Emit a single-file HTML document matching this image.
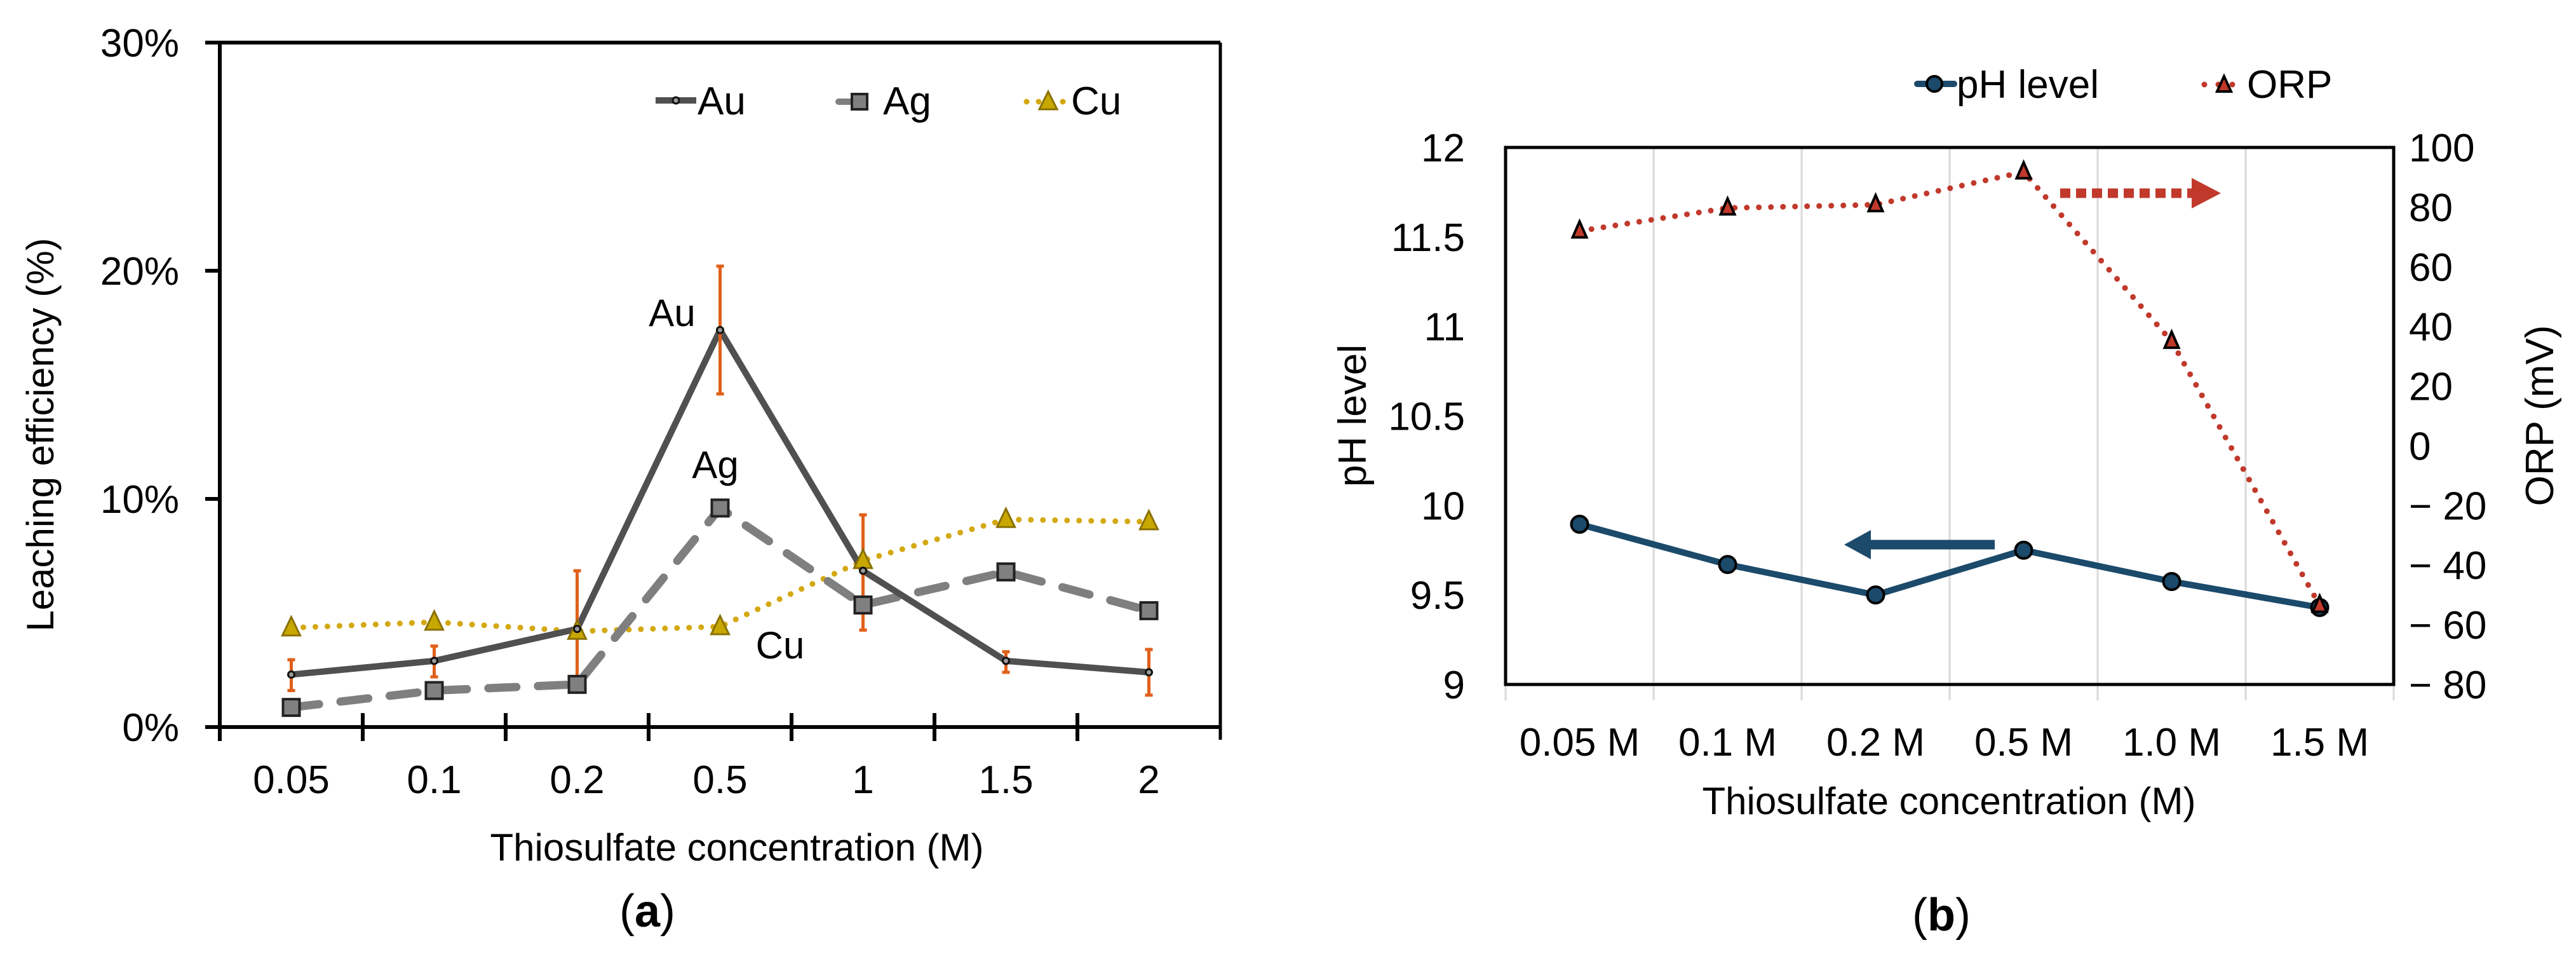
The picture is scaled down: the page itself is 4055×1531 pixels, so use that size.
<!DOCTYPE html>
<html><head><meta charset="utf-8"><style>
html,body{margin:0;padding:0;background:#fff;}
svg{display:block;font-family:"Liberation Sans",sans-serif;}
</style></head><body>
<svg id="fig" width="4055" height="1531" viewBox="0 0 4055 1531">
<g id="panelA"></g>
<g id="panelB"></g>
</svg>
<script>
// ---------- Panel (a) data ----------
const catsA = ["0.05","0.1","0.2","0.5","1","1.5","2"];
const auVals = [2.3,2.9,4.3,17.4,6.85,2.9,2.4];
const agVals = [0.86,1.6,1.87,9.6,5.35,6.8,5.1];
const cuVals = [4.35,4.6,4.2,4.4,7.3,9.1,9.0];
const auErrHi = [2.95,3.55,6.85,20.2,9.3,3.3,3.4];
const auErrLo = [1.6,2.2,2.2,14.6,4.25,2.4,1.4];
const yTicksA = [0,10,20,30];
const yTickLabelsA = ["0%","10%","20%","30%"];
// ---------- Panel (b) data ----------
const catsB = ["0.05 M","0.1 M","0.2 M","0.5 M","1.0 M","1.5 M"];
const phVals = [9.895,9.67,9.5,9.75,9.575,9.43];
const orpVals = [72,79.7,80.8,91.8,35,-53.5];
const phTicks = [9,9.5,10,10.5,11,11.5,12];
const phTickLabels = ["9","9.5","10","10.5","11","11.5","12"];
const orpTicks = [-80,-60,-40,-20,0,20,40,60,80,100];
const orpTickLabels = ["\u2212 80","\u2212 60","\u2212 40","\u2212 20","0","20","40","60","80","100"];

const NS="http://www.w3.org/2000/svg";
function mk(parent,tag,attrs,text){const e=document.createElementNS(NS,tag);for(const k in attrs)e.setAttribute(k,attrs[k]);if(text!==undefined)e.textContent=text;parent.appendChild(e);return e;}

// ===== Panel A =====
const A=document.getElementById('panelA');
const aL=346,aR=1921,aT=67,aB=1144;
const bwA=(aR-aL)/catsA.length;
const xA=i=>aL+bwA*(i+0.5);
const yA=v=>aB-(v/30)*(aB-aT);
let e;
e=mk(A,'line',{x1:323,y1:aT,x2:aR,y2:aT,stroke:'#000','stroke-width':6});


e=mk(A,'line',{x1:aR,y1:aT,x2:aR,y2:aB+20,stroke:'#000','stroke-width':5});


e=mk(A,'line',{x1:aL,y1:aT,x2:aL,y2:aB+22,stroke:'#000','stroke-width':6});


e=mk(A,'line',{x1:323,y1:aB,x2:aR,y2:aB,stroke:'#000','stroke-width':6});


for(let i=1;i<catsA.length;i++){
  e=mk(A,'line',{x1:aL+bwA*i,y1:aB-22,x2:aL+bwA*i,y2:aB+22,stroke:'#000','stroke-width':6});
  
  
}
yTicksA.forEach((v,i)=>{
  e=mk(A,'line',{x1:323,y1:yA(v),x2:aL,y2:yA(v),stroke:'#000','stroke-width':6});
  
  
  e=mk(A,'text',{x:282,y:yA(v)+22,'font-size':62,'text-anchor':'end',fill:'#000'},yTickLabelsA[i]);
  
  
});
catsA.forEach((c,i)=>{
  e=mk(A,'text',{x:xA(i),y:1248,'font-size':62,'text-anchor':'middle'},c);
  
  
});
e=mk(A,'text',{x:1160,y:1354,'font-size':60,'text-anchor':'middle'},'Thiosulfate concentration (M)');


e=mk(A,'text',{x:84,y:684,'font-size':60,'text-anchor':'middle',transform:'rotate(-90 84 684)'},'Leaching efficiency (%)');


e=mk(A,'text',{x:1019,y:1458,'font-size':72,'text-anchor':'middle'});


e.innerHTML='(<tspan font-weight="bold">a</tspan>)';
function pts(vals,xf,yf){return vals.map((v,i)=>xf(i)+','+yf(v)).join(' ');}
e=mk(A,'polyline',{points:pts(cuVals,xA,yA),fill:'none',stroke:'#D4A810','stroke-width':9,'stroke-dasharray':'0 19','stroke-linecap':'round'});


e=mk(A,'polyline',{points:pts(agVals,xA,yA),fill:'none',stroke:'#7f7f7f','stroke-width':13,'stroke-dasharray':'44 34','stroke-linecap':'round'});


e=mk(A,'polyline',{points:pts(auVals,xA,yA),fill:'none',stroke:'#505050','stroke-width':10,'stroke-linejoin':'round'});


auVals.forEach((v,i)=>{
  e=mk(A,'line',{x1:xA(i),y1:yA(auErrHi[i]),x2:xA(i),y2:yA(auErrLo[i]),stroke:'#E0601A','stroke-width':5});
  
  
  [auErrHi[i],auErrLo[i]].forEach(t=>{
    e=mk(A,'line',{x1:xA(i)-6,y1:yA(t),x2:xA(i)+6,y2:yA(t),stroke:'#E0601A','stroke-width':5});
    
    
  });
});
cuVals.forEach((v,i)=>{
  const x=xA(i),y=yA(v);
  e=mk(A,'polygon',{points:`${x},${y-17} ${x-14},${y+12} ${x+14},${y+12}`,fill:'#C8A800',stroke:'#8a7000','stroke-width':3});
  
  
});
agVals.forEach((v,i)=>{
  const x=xA(i),y=yA(v);
  e=mk(A,'rect',{x:x-13,y:y-13,width:26,height:26,fill:'#808080',stroke:'#222','stroke-width':4});
  
  
});
auVals.forEach((v,i)=>{
  const x=xA(i),y=yA(v);
  e=mk(A,'circle',{cx:x,cy:y,r:5,fill:'#999',stroke:'#111','stroke-width':3});
  
  
});
[['Au',1058,513],['Ag',1126,752],['Cu',1228,1036]].forEach(d=>{
  e=mk(A,'text',{x:d[1],y:d[2],'font-size':60,'text-anchor':'middle'},d[0]);
  
  
});
e=mk(A,'line',{x1:1032,y1:158,x2:1096,y2:158,stroke:'#505050','stroke-width':10});


e=mk(A,'circle',{cx:1064,cy:158,r:5,fill:'#999',stroke:'#111','stroke-width':3});


e=mk(A,'text',{x:1098,y:180,'font-size':62},'Au');


e=mk(A,'line',{x1:1320,y1:160,x2:1340,y2:160,stroke:'#7f7f7f','stroke-width':10,'stroke-linecap':'round'});


e=mk(A,'rect',{x:1341,y:148,width:24,height:24,fill:'#808080',stroke:'#222','stroke-width':4});


e=mk(A,'text',{x:1390,y:180,'font-size':62},'Ag');


e=mk(A,'line',{x1:1616,y1:160,x2:1684,y2:160,stroke:'#D4A810','stroke-width':9,'stroke-dasharray':'0 19','stroke-linecap':'round'});


e=mk(A,'polygon',{points:'1650,144 1636,172 1664,172',fill:'#C8A800',stroke:'#8a7000','stroke-width':3});


e=mk(A,'text',{x:1686,y:180,'font-size':62},'Cu');



// ===== Panel B =====
const B=document.getElementById('panelB');
const bL=2370,bR=3768,bT=232,bB=1077;
const bwB=(bR-bL)/catsB.length;
const xB=i=>bL+bwB*(i+0.5);
const yPH=v=>bB-(v-9)/3*(bB-bT);
const yORP=v=>bB-(v+80)/180*(bB-bT);
for(let i=1;i<catsB.length;i++){
  e=mk(B,'line',{x1:bL+bwB*i,y1:bT,x2:bL+bwB*i,y2:bB+25,stroke:'#d9d9d9','stroke-width':3});
  
  
}
e=mk(B,'line',{x1:bL,y1:bB,x2:bL,y2:bB+25,stroke:'#d9d9d9','stroke-width':3});


e=mk(B,'line',{x1:bR,y1:bB,x2:bR,y2:bB+25,stroke:'#d9d9d9','stroke-width':3});


e=mk(B,'rect',{x:bL,y:bT,width:bR-bL,height:bB-bT,fill:'none',stroke:'#000','stroke-width':5});


phTicks.forEach((v,i)=>{
  e=mk(B,'text',{x:2306,y:yPH(v)+22,'font-size':62,'text-anchor':'end'},phTickLabels[i]);
  
  
});
orpTicks.forEach((v,i)=>{
  e=mk(B,'text',{x:3792,y:yORP(v)+22,'font-size':62,'text-anchor':'start'},orpTickLabels[i]);
  
  
});
catsB.forEach((c,i)=>{
  e=mk(B,'text',{x:xB(i),y:1189,'font-size':62,'text-anchor':'middle'},c);
  
  
});
e=mk(B,'text',{x:3068,y:1281,'font-size':60,'text-anchor':'middle'},'Thiosulfate concentration (M)');


e=mk(B,'text',{x:2150,y:654,'font-size':62,'text-anchor':'middle',transform:'rotate(-90 2150 654)'},'pH level');


e=mk(B,'text',{x:4019,y:654,'font-size':62,'text-anchor':'middle',transform:'rotate(-90 4019 654)'},'ORP (mV)');


e=mk(B,'text',{x:3056,y:1464,'font-size':72,'text-anchor':'middle'});


e.innerHTML='(<tspan font-weight="bold">b</tspan>)';
e=mk(B,'polyline',{points:pts(phVals,xB,yPH),fill:'none',stroke:'#1B4A6B','stroke-width':10,'stroke-linejoin':'round'});


e=mk(B,'polyline',{points:pts(orpVals,xB,yORP),fill:'none',stroke:'#C0392B','stroke-width':9,'stroke-dasharray':'0 19','stroke-linecap':'round'});


phVals.forEach((v,i)=>{
  e=mk(B,'circle',{cx:xB(i),cy:yPH(v),r:13,fill:'#1B4A6B',stroke:'#000','stroke-width':4});
  
  
});
orpVals.forEach((v,i)=>{
  const x=xB(i),y=yORP(v);
  e=mk(B,'polygon',{points:`${x},${y-15} ${x-11},${y+10} ${x+11},${y+10}`,fill:'#C0392B',stroke:'#000','stroke-width':4});
  
  
});
e=mk(B,'line',{x1:3243,y1:304,x2:3450,y2:304,stroke:'#C0392B','stroke-width':15,'stroke-dasharray':'16 9'});


e=mk(B,'polygon',{points:'3450,280 3496,304 3450,328',fill:'#C0392B'});


e=mk(B,'line',{x1:3140,y1:857,x2:2940,y2:857,stroke:'#1B4A6B','stroke-width':15});


e=mk(B,'polygon',{points:'2945,834 2903,857 2945,880',fill:'#1B4A6B'});


e=mk(B,'line',{x1:3018,y1:132,x2:3076,y2:132,stroke:'#1B4A6B','stroke-width':10,'stroke-linecap':'round'});


e=mk(B,'circle',{cx:3045,cy:132,r:12,fill:'#1B4A6B',stroke:'#000','stroke-width':4});


e=mk(B,'text',{x:3080,y:154,'font-size':62},'pH level');


e=mk(B,'line',{x1:3470,y1:133,x2:3535,y2:133,stroke:'#C0392B','stroke-width':9,'stroke-dasharray':'0 22','stroke-linecap':'round'});


e=mk(B,'polygon',{points:'3501,120 3490,144 3512,144',fill:'#C0392B',stroke:'#000','stroke-width':4});


e=mk(B,'text',{x:3537,y:154,'font-size':62},'ORP');


</script>
</body></html>
